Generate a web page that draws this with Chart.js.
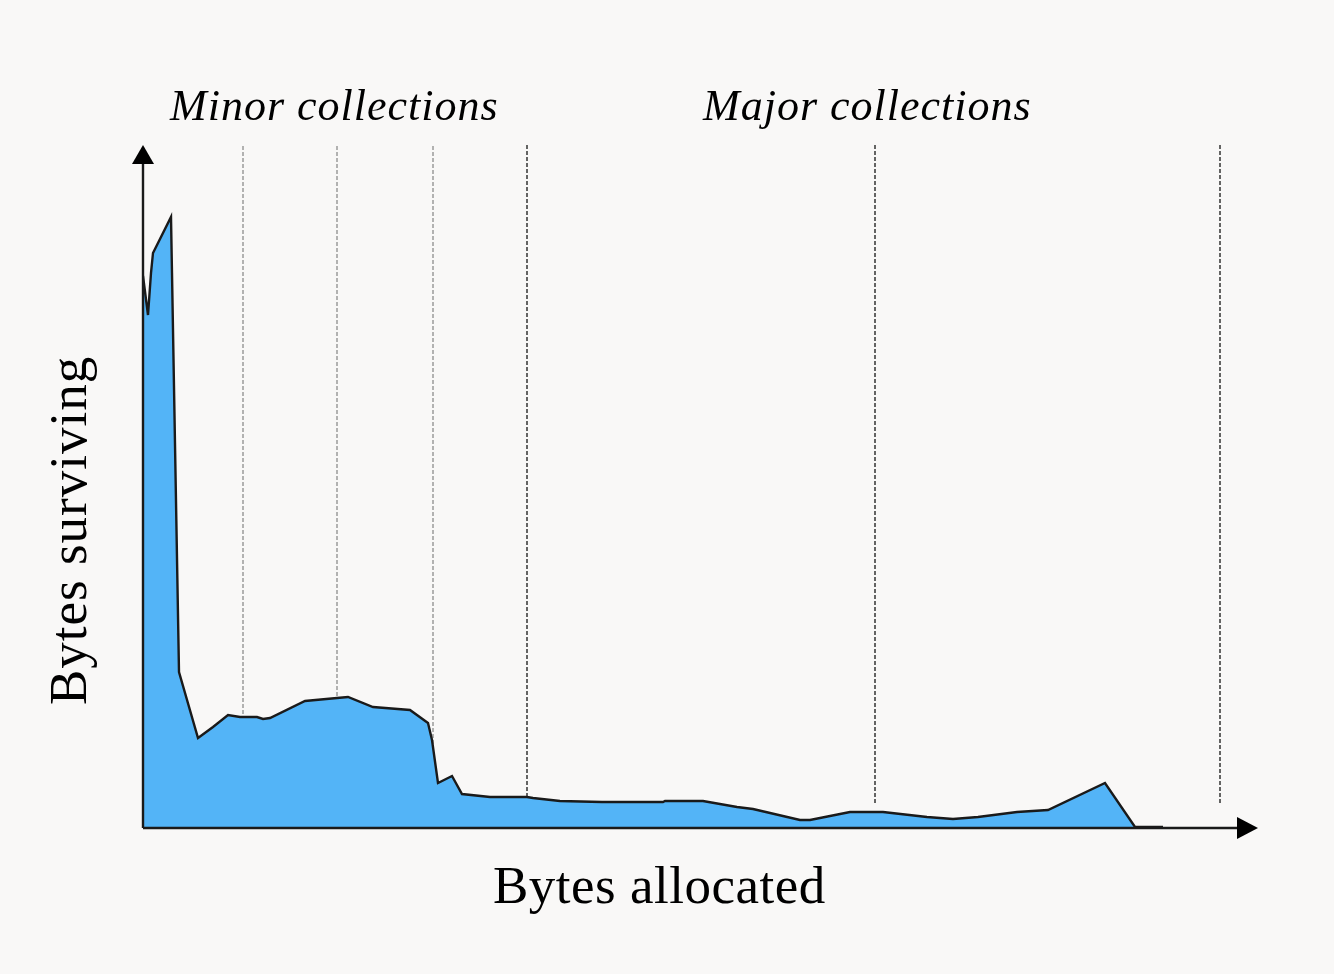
<!DOCTYPE html>
<html>
<head>
<meta charset="utf-8">
<script src="https://cdn.jsdelivr.net/npm/chart.js@4"></script>
<style>
  html, body { margin: 0; padding: 0; background: #f9f8f7; }
  #wrap { width: 1334px; height: 974px; position: relative; }
</style>
</head>
<body>
<div id="wrap"><canvas id="gcChart"></canvas></div>
<script>
// bytes allocated (arbitrary units) and bytes still surviving at that point
const allocated = [0, 5, 8, 10, 28, 29, 36, 55, 70, 85, 97, 114, 120, 127, 162, 194, 205, 230, 267, 285, 289, 295, 309, 319,
    347, 384, 390, 417, 459, 520, 522, 560, 594, 610, 657, 667, 707, 740, 784, 810, 835, 874, 905, 962, 992, 1020];
const surviving = [552, 513, 555, 575, 611, 555, 156, 90, 101, 113, 111, 111, 109, 110, 127, 130, 131, 121, 118, 105, 88, 45, 52, 34,
    31, 31, 30, 27, 26, 26, 27, 27, 21, 19, 8, 8, 16, 16, 11, 9, 11, 16, 18, 45, 1, 1];

// where collections happen along the allocation axis
const minorCollections = [100, 194, 290];
const majorCollections = [384, 732, 1077];
const markerTop = 683;
const majorBottom = 25;

const labels = {
    minor: 'Minor collections',
    major: 'Major collections',
    xAxis: 'Bytes allocated',
    yAxis: 'Bytes surviving'
};

const fillColor = '#53b4f7';
const inkColor = '#1a1a1a';

const curve = allocated.map((x, i) => ({ x: x, y: surviving[i] }));

const markerSets = [];
minorCollections.forEach(x => {
    markerSets.push({
        type: 'line',
        data: [{ x: x, y: 0 }, { x: x, y: markerTop }],
        borderColor: '#9a9a9a',
        borderWidth: 1.5,
        borderDash: [4, 2],
        pointRadius: 0,
        fill: false,
        order: 5
    });
});
majorCollections.forEach(x => {
    markerSets.push({
        type: 'line',
        data: [{ x: x, y: majorBottom }, { x: x, y: markerTop }],
        borderColor: '#333333',
        borderWidth: 1.5,
        borderDash: [4, 2],
        pointRadius: 0,
        fill: false,
        order: 5
    });
});

// axes with arrow heads and the hand placed labels
const decorations = {
    id: 'decorations',
    afterDatasetsDraw(chart) {
        const ctx = chart.ctx;
        const xs = chart.scales.x, ys = chart.scales.y;
        const ox = xs.getPixelForValue(0), oy = ys.getPixelForValue(0);
        const top = chart.chartArea.top + 7;
        const right = chart.chartArea.right;

        ctx.save();
        ctx.strokeStyle = inkColor;
        ctx.fillStyle = '#000';
        ctx.lineWidth = 2.4;
        ctx.beginPath();
        ctx.moveTo(ox, oy);
        ctx.lineTo(ox, top + 14);
        ctx.moveTo(ox, oy);
        ctx.lineTo(right - 18, oy);
        ctx.stroke();

        ctx.beginPath();
        ctx.moveTo(ox, top);
        ctx.lineTo(ox - 11, top + 19);
        ctx.lineTo(ox + 11, top + 19);
        ctx.closePath();
        ctx.fill();

        ctx.beginPath();
        ctx.moveTo(right, oy);
        ctx.lineTo(right - 21, oy - 11);
        ctx.lineTo(right - 21, oy + 11);
        ctx.closePath();
        ctx.fill();

        ctx.fillStyle = '#000';
        ctx.textBaseline = 'alphabetic';
        ctx.font = 'italic 44px "Liberation Serif", "DejaVu Serif", serif';
        ctx.letterSpacing = '1px';
        ctx.textAlign = 'left';
        ctx.fillText(labels.minor, 170, 120);
        ctx.fillText(labels.major, 703, 120);

        ctx.font = '53px "Liberation Serif", "DejaVu Serif", serif';
        ctx.letterSpacing = '0.5px';
        ctx.textAlign = 'left';
        ctx.fillText(labels.xAxis, 493, 903);

        ctx.translate(86, 705);
        ctx.rotate(-Math.PI / 2);
        ctx.letterSpacing = '1px';
        ctx.fillText(labels.yAxis, 0, 0);
        ctx.restore();
    }
};

new Chart(document.getElementById('gcChart'), {
    type: 'line',
    data: {
        datasets: [{
            data: curve,
            borderColor: inkColor,
            borderWidth: 2.4,
            backgroundColor: fillColor,
            fill: 'origin',
            pointRadius: 0,
            tension: 0,
            order: 1
        }].concat(markerSets)
    },
    options: {
        responsive: true,
        maintainAspectRatio: false,
        animation: false,
        layout: { padding: { left: 143, right: 76, top: 138, bottom: 146 } },
        plugins: { legend: { display: false }, tooltip: { enabled: false } },
        scales: {
            x: { type: 'linear', min: 0, max: 1115, display: false },
            y: { min: 0, max: 690, display: false }
        }
    },
    plugins: [decorations]
});
</script>
</body>
</html>
